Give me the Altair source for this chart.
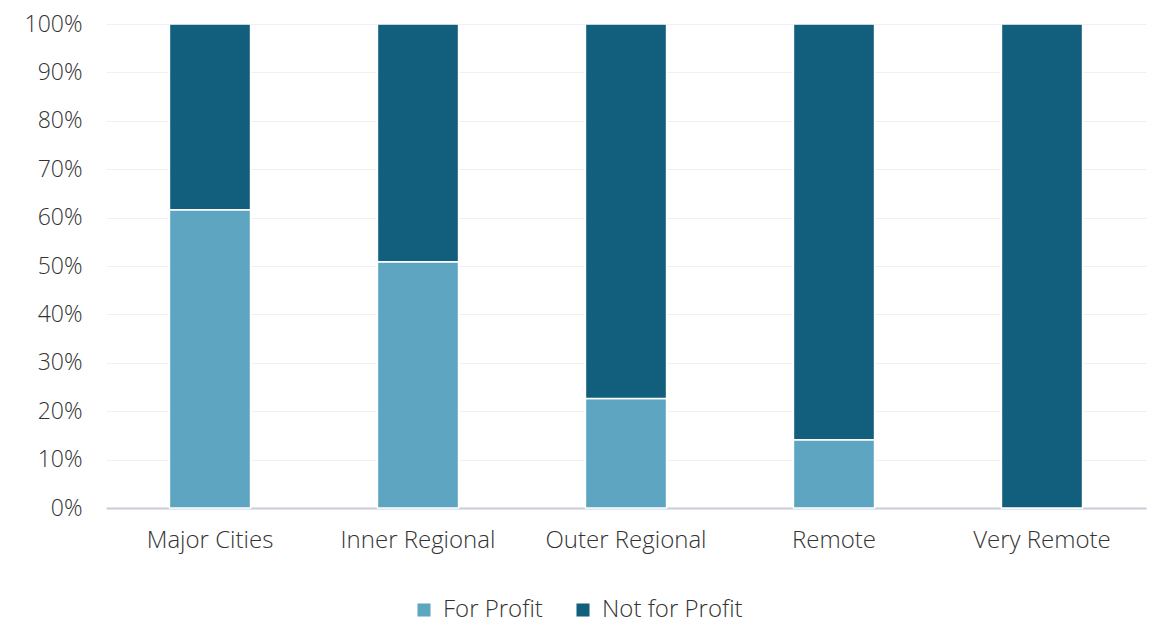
import altair as alt
import pandas as pd

categories = ["Major Cities", "Inner Regional", "Outer Regional", "Remote", "Very Remote"]
for_profit = [0.616, 0.509, 0.226, 0.141, 0.0]
not_for_profit = [0.384, 0.491, 0.774, 0.859, 1.0]
series = ["For Profit", "Not for Profit"]
colors = ["#5EA5C2", "#125F7D"]

rows = []
for c, fp, nfp in zip(categories, for_profit, not_for_profit):
    rows.append({"Region": c, "Type": series[0], "Share": fp})
    rows.append({"Region": c, "Type": series[1], "Share": nfp})
df = pd.DataFrame(rows)

FONT = "Open Sans"
TXT = "#333333"

chart = alt.Chart(df).mark_bar(stroke="white", strokeWidth=1.5).encode(
    x=alt.X("Region:N", sort=categories, title=None,
            scale=alt.Scale(paddingInner=0.61, paddingOuter=0.305),
            axis=alt.Axis(labelAngle=0, labelFontSize=24, labelColor=TXT, labelFont=FONT,
                          labelFontWeight=300,
                          ticks=False, domainColor="#c9ccd6", domainWidth=2,
                          labelPadding=20, grid=False)),
    y=alt.Y("Share:Q", stack="zero", title=None,
            scale=alt.Scale(domain=[0, 1], nice=False),
            axis=alt.Axis(format=".0%", values=[i / 10 for i in range(11)],
                          labelFontSize=23, labelColor=TXT, labelFont=FONT,
                          labelFontWeight=300,
                          ticks=False, domain=False, labelPadding=24,
                          gridColor="#f0f0f0", gridWidth=1)),
    color=alt.Color("Type:N", sort=series,
                    scale=alt.Scale(domain=series, range=colors),
                    legend=alt.Legend(title=None, orient="none", direction="horizontal",
                                      legendX=306, legendY=574,
                                      symbolType="square", symbolSize=170,
                                      symbolStrokeWidth=0,
                                      labelFontSize=24, labelColor=TXT, labelFont=FONT,
                                      labelFontWeight=300,
                                      columnPadding=28, labelOffset=7)),
    order=alt.Order("Type:N", sort="ascending"),
).properties(
    width=1040, height=484,
    background="white",
    autosize=alt.AutoSizeParams(type="none"),
    padding={"left": 98, "top": 16, "right": 16, "bottom": 115},
).configure_view(strokeWidth=0, stroke=None)

chart.save("out.html", embed_options={"renderer": "svg", "actions": False})
